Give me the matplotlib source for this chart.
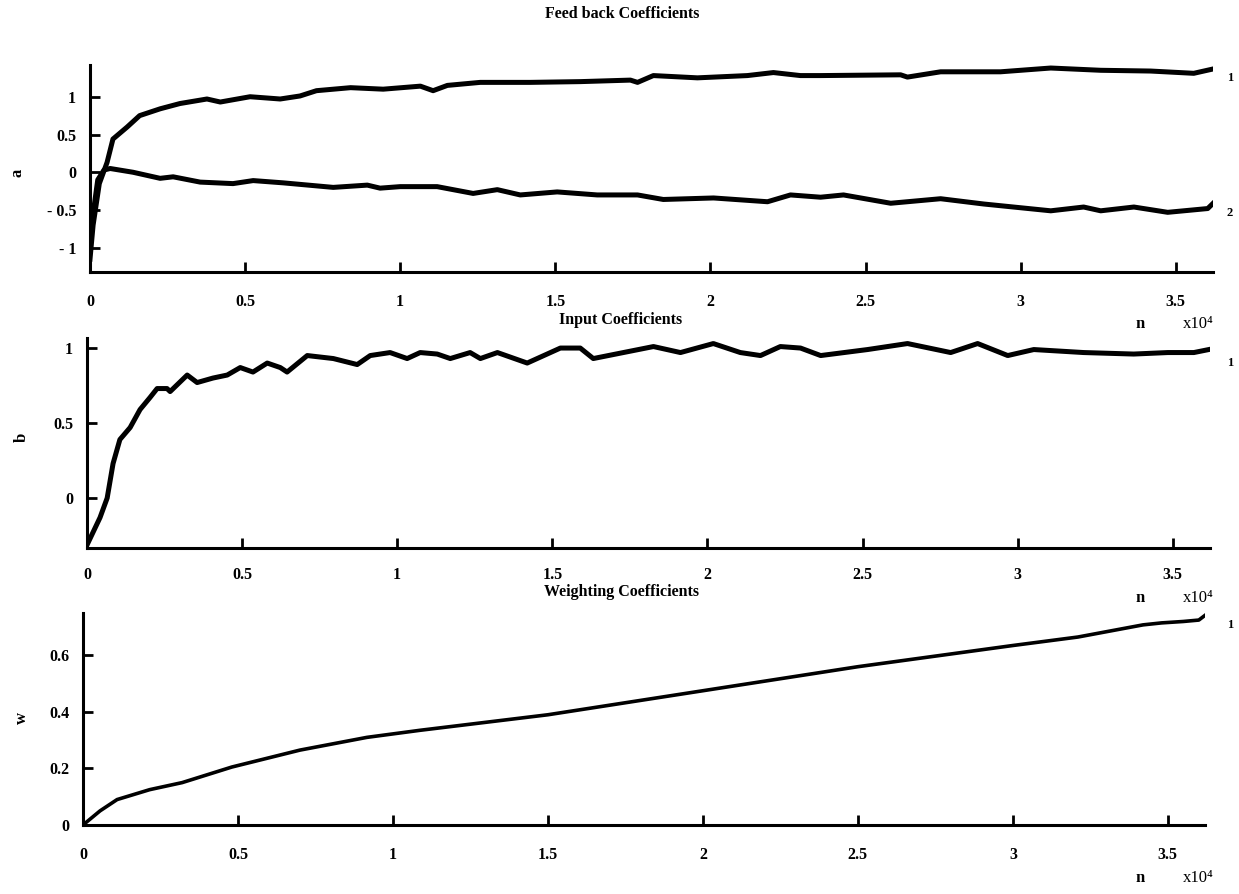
import matplotlib
matplotlib.use("Agg")
import matplotlib.pyplot as plt

# ---------------- data (n in units of 1e4) ----------------
a1_n = [0.0, 0.01, 0.03, 0.055, 0.074, 0.12, 0.16, 0.226, 0.29, 0.377, 0.42, 0.516, 0.613, 0.677,
        0.73, 0.84, 0.945, 1.065, 1.106, 1.152, 1.258, 1.419, 1.581, 1.742, 1.765, 1.816, 1.958,
        2.119, 2.203, 2.29, 2.355, 2.613, 2.635, 2.742, 2.935, 3.097, 3.258, 3.419, 3.558, 3.623]
a1_v = [-1.15, -0.7, -0.15, 0.13, 0.44, 0.6, 0.75, 0.84, 0.91, 0.97, 0.93, 1.0, 0.97, 1.01,
        1.08, 1.12, 1.10, 1.14, 1.08, 1.15, 1.19, 1.19, 1.20, 1.22, 1.19, 1.28, 1.25,
        1.28, 1.32, 1.28, 1.28, 1.29, 1.26, 1.33, 1.33, 1.38, 1.35, 1.34, 1.31, 1.37]

a2_n = [0.0, 0.01, 0.025, 0.045, 0.065, 0.139, 0.226, 0.268, 0.355, 0.461, 0.526, 0.623, 0.784,
        0.894, 0.935, 1.0, 1.119, 1.235, 1.313, 1.387, 1.506, 1.635, 1.765, 1.848, 2.01, 2.184,
        2.258, 2.355, 2.429, 2.581, 2.742, 2.881, 3.097, 3.203, 3.258, 3.365, 3.474, 3.603, 3.623]
a2_v = [-1.0, -0.55, -0.1, 0.03, 0.05, 0.0, -0.08, -0.06, -0.13, -0.15, -0.11, -0.14, -0.2,
        -0.17, -0.21, -0.19, -0.19, -0.28, -0.23, -0.30, -0.26, -0.30, -0.30, -0.36, -0.34, -0.39,
        -0.30, -0.33, -0.30, -0.41, -0.35, -0.42, -0.51, -0.46, -0.51, -0.46, -0.53, -0.48, -0.40]

b1_n = [0.003, 0.042, 0.065, 0.084, 0.106, 0.139, 0.171, 0.203, 0.226, 0.258, 0.268, 0.323, 0.355,
        0.406, 0.452, 0.494, 0.535, 0.581, 0.623, 0.645, 0.71, 0.794, 0.871, 0.913, 0.977, 1.032,
        1.074, 1.129, 1.171, 1.235, 1.268, 1.323, 1.419, 1.526, 1.59, 1.632, 1.729, 1.826, 1.913,
        2.019, 2.106, 2.171, 2.235, 2.3, 2.365, 2.516, 2.645, 2.784, 2.871, 2.968, 3.052, 3.213,
        3.374, 3.484, 3.568, 3.616]
b1_v = [-0.30, -0.13, 0.0, 0.23, 0.39, 0.47, 0.59, 0.67, 0.73, 0.73, 0.71, 0.82, 0.77,
        0.80, 0.82, 0.87, 0.84, 0.90, 0.87, 0.84, 0.95, 0.93, 0.89, 0.95, 0.97, 0.93,
        0.97, 0.96, 0.93, 0.97, 0.93, 0.97, 0.90, 1.0, 1.0, 0.93, 0.97, 1.01, 0.97,
        1.03, 0.97, 0.95, 1.01, 1.0, 0.95, 0.99, 1.03, 0.97, 1.03, 0.95, 0.99, 0.97,
        0.96, 0.97, 0.97, 0.99]

w1_n = [0.0, 0.055, 0.11, 0.215, 0.32, 0.48, 0.70, 0.916, 1.087, 1.5, 2.0, 2.5, 3.0, 3.21,
        3.42, 3.48, 3.55, 3.6, 3.63]
w1_v = [0.0, 0.05, 0.09, 0.125, 0.15, 0.205, 0.265, 0.31, 0.335, 0.39, 0.475, 0.56, 0.635, 0.665,
        0.708, 0.715, 0.72, 0.725, 0.75]

x_ticks = [0, 0.5, 1, 1.5, 2, 2.5, 3, 3.5]
x_ticklabels = ["0", "0.5", "1", "1.5", "2", "2.5", "3", "3.5"]
a_ticks = [-1, -0.5, 0, 0.5, 1]
a_ticklabels = ["- 1", "- 0.5", "0", "0.5", "1"]
b_ticks = [0, 0.5, 1]
b_ticklabels = ["0", "0.5", "1"]
w_ticks = [0, 0.2, 0.4, 0.6]
w_ticklabels = ["0", "0.2", "0.4", "0.6"]

# ---------------- style ----------------
FONT = "Liberation Serif"
plt.rcParams["font.family"] = [FONT, "DejaVu Serif"]
plt.rcParams["font.weight"] = "bold"

W, H = 1239, 894
fig = plt.figure(figsize=(W / 100, H / 100), dpi=100)
fig.patch.set_facecolor("white")


def px_axes(left, top, right, bottom):
    return fig.add_axes([left / W, 1 - bottom / H, (right - left) / W, (bottom - top) / H])


def style(ax, ylim, yt, ytl, xpad=16):
    ax.set_xlim(0, 3.62)
    ax.set_ylim(*ylim)
    for s in ("top", "right"):
        ax.spines[s].set_visible(False)
    for s in ("left", "bottom"):
        ax.spines[s].set_linewidth(2.2)
        ax.spines[s].set_color("black")
    ax.set_xticks(x_ticks)
    ax.set_xticklabels(x_ticklabels)
    ax.set_yticks(yt)
    ax.set_yticklabels(ytl)
    ax.tick_params(direction="in", length=7, width=2, labelsize=11.5, colors="black")
    ax.tick_params(axis="x", pad=xpad)
    ax.tick_params(axis="y", pad=10)
    for lab in ax.get_xticklabels() + ax.get_yticklabels():
        lab.set_fontweight("bold")


LW = 3.6

ax1 = px_axes(90, 65, 1213, 272)
ax1.plot(a1_n, a1_v, color="black", lw=LW, solid_joinstyle="round")
ax1.plot(a2_n, a2_v, color="black", lw=LW, solid_joinstyle="round")
style(ax1, (-1.32, 1.42), a_ticks, a_ticklabels)

ax2 = px_axes(87, 338, 1210, 548)
ax2.plot(b1_n, b1_v, color="black", lw=LW, solid_joinstyle="round")
style(ax2, (-0.333, 1.067), b_ticks, b_ticklabels, xpad=14)

ax3 = px_axes(83, 613, 1205, 825)
ax3.plot(w1_n, w1_v, color="black", lw=2.6, solid_joinstyle="round")
style(ax3, (0, 0.75), w_ticks, w_ticklabels)

# titles
tkw = dict(ha="center", va="center", fontsize=11.5, fontweight="bold")
fig.text(622 / W, 1 - 14 / H, "Feed back Coefficients", **tkw)
fig.text(621 / W, 1 - 320 / H, "Input Coefficients", **tkw)
fig.text(621 / W, 1 - 592 / H, "Weighting Coefficients", **tkw)

# y labels
fig.text(17 / W, 1 - 173 / H, "a", ha="center", va="center", fontsize=12, fontweight="bold", rotation=90)
fig.text(22 / W, 1 - 437 / H, "b", ha="center", va="center", fontsize=12, fontweight="bold", rotation=90)
fig.text(22 / W, 1 - 718 / H, "w", ha="center", va="center", fontsize=12, fontweight="bold", rotation=90)

# n x10^4 labels
for yy in (324, 598, 878):
    fig.text(1140 / W, 1 - yy / H, "n", ha="center", va="center", fontsize=12, fontweight="bold")
    fig.text(1198 / W, 1 - yy / H, "x10\u2074", ha="center", va="center", fontsize=12, fontweight="normal")

# curve end labels
sub = dict(ha="center", va="center", fontsize=9, fontweight="bold")
fig.text(1230 / W, 1 - 78 / H, "1", **sub)
fig.text(1230 / W, 1 - 213 / H, "2", **sub)
fig.text(1230 / W, 1 - 363 / H, "1", **sub)
fig.text(1230 / W, 1 - 625 / H, "1", **sub)

fig.savefig("out.png", dpi=100, facecolor="white")
